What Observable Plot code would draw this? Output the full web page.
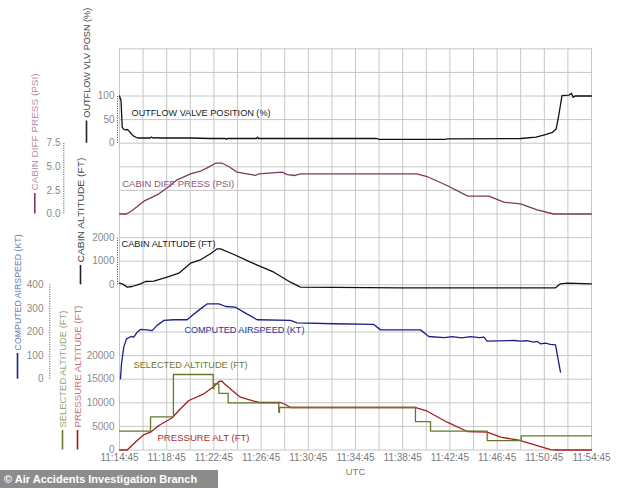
<!DOCTYPE html>
<html><head><meta charset="utf-8">
<script src="https://cdn.jsdelivr.net/npm/d3@7"></script>
<script src="https://cdn.jsdelivr.net/npm/@observablehq/plot@0.6"></script>
<style>
body{margin:0;background:#fff;}
#chart{position:relative;width:634px;height:488px;overflow:hidden;background:#fff;}
#chart svg{position:absolute;left:0;top:0;}
#credit{position:absolute;left:0;top:470px;width:218px;height:18px;background:#8c8c8c;color:#fff;
  font:bold 11px 'Liberation Sans',Arial,sans-serif;line-height:18px;padding-left:4px;box-sizing:border-box;white-space:nowrap;}
</style></head><body>
<div id="chart"><div id="credit">© Air Accidents Investigation Branch</div></div>
<script>
// ---------- data (times = minutes after 11:14:45 UTC) ----------
const xTickLabels = ["11:14:45","11:18:45","11:22:45","11:26:45","11:30:45","11:34:45","11:38:45","11:42:45","11:46:45","11:50:45","11:54:45"];

const outflowT = [0,0.13,0.23,0.34,0.5,0.68,0.79,1.0,1.2,1.44,1.64,2.6,2.7,2.85,3.2,3.3,3.5,6.0,7.7,9.0,9.05,9.15,11.6,11.7,11.8,15.3,21.8,22.0,27.6,27.8,34.0,35.3,36.1,36.7,37.0,37.2,37.5,38.1,38.3,38.45,38.6,40];
const outflowV = [100,90,34,30,28,29,26,20,15,12,11,11,13,11,12,11,11,11,10,10,8,10,10,13,10,10,10,8,8,9,10,13,18,23,30,55,101,102,106,97,100,100];

const diffT = [0,0.59,1.07,1.5,2.07,2.78,3.34,4.04,4.89,6.02,6.86,7.43,8.14,8.7,9.26,9.97,10.82,11.53,11.8,13.79,14.21,14.87,15.34,25.2,26.06,27.75,29.52,31.3,32.57,33.98,35.4,36.8,40];
const diffV = [0,0,0.37,0.8,1.36,1.78,2.14,2.78,3.62,4.26,4.53,4.89,5.38,5.38,5.03,4.43,4.26,4.08,4.26,4.43,4.18,4.08,4.26,4.26,3.97,3.02,1.89,1.89,1.25,1.08,0.44,0,0];

const cabinT = [0,0.23,0.65,1.07,1.78,2.2,2.91,4.04,5.03,6.02,6.86,7.71,8.28,8.56,9.69,11.1,13.08,14.49,15.34,23.8,36.95,37.37,37.94,40];
const cabinV = [68,42,-100,-72,42,140,153,322,492,915,1059,1314,1525,1525,1284,958,534,110,-100,-127,-127,42,68,42];

const speedT = [0.08,0.17,0.36,0.59,0.99,1.21,1.5,1.78,2.34,2.77,3.19,3.75,4.6,5.73,6.16,6.86,7.43,8.42,9.0,9.83,10.53,11.67,14.49,15.06,18.16,21.55,22.12,25.51,26.21,27.5,28.2,29.0,29.75,30.5,30.88,31.16,33.42,34.0,34.5,35.11,35.4,35.68,36.1,36.5,36.95,37.37];
const speedV = [2,65,136,171,181,178,199,211,209,206,228,249,252,252,270,298,319,319,308,305,284,252,249,239,235,232,209,209,181,176,180,175,180,176,178,161,164,161,163,157,160,150,153,148,145,30];

const altT = [0,0.65,1.5,2.07,2.63,3.33,4.47,5.17,5.88,7.15,8.0,8.42,8.7,8.84,9.55,10.25,11.38,11.95,13.64,14.07,14.49,25.11,26.08,27.77,29.47,31.16,32.29,33.98,35.4,36.53,37.0,40];
const altV = [0,0,2000,3280,3770,5190,6820,8730,10490,11900,13450,14510,14600,14150,12600,11190,10340,10060,10060,9640,9000,9000,8220,5890,3920,3770,2710,2010,950,100,0,0];

const selT = [0,2.63,4.57,7.94,7.99,8.42,9.21,13.5,13.56,25.08,26.36,31.16,34.04,40];
const selV = [4000,7000,16000,13000,14000,12000,10000,8000,9000,6000,4000,2000,3000,3000];

const outflowTicks = [0,50,100];
const diffTicks = [0,2.5,5,7.5];
const cabinTicks = [0,1000,2000];
const speedTicks = [0,100,200,300,400];
const altTicks = [0,5000,10000,15000,20000];

// ---------- layout helpers ----------
const FONT = "'Liberation Sans', Arial, sans-serif";
const parse = d3.utcParse("%H:%M:%S");
const T0 = parse(xTickLabels[0]);
const toDate = m => new Date(+T0 + m * 60000);
const pts = (T, V) => T.map((t, i) => ({t: toDate(t), v: V[i]}));
const GY = u => 449.5 - u * 23.6;   // grid row -> pixel
const root = document.getElementById("chart");

// rendered text widths (px) to mimic the narrow plotter font
const rotLen = {"OUTFLOW VLV POSN (%)": 110, "CABIN DIFF PRESS (PSI)": 117, "CABIN ALTITUDE (FT)": 105,
  "COMPUTED AIRSPEED (KT)": 116, "SELECTED ALTITUDE (FT)": 117, "PRESSURE ALTITUDE (FT)": 122};
const flatLen = {"OUTFLOW VALVE POSITION (%)": 139, "CABIN DIFF PRESS (PSI)": 112, "CABIN ALTITUDE (FT)": 94,
  "COMPUTED AIRSPEED (KT)": 120, "SELECTED ALTITUDE (FT)": 114, "PRESSURE ALT (FT)": 92};

function layer(yOpts, marks, xAxisOff = true) {
  const svg = Plot.plot({
    width: 634, height: 488,
    marginLeft: 119, marginRight: 43, marginTop: 48, marginBottom: 38.5,
    style: {background: "none", fontFamily: FONT},
    x: Object.assign({type: "utc", domain: [toDate(0), toDate(40)], range: [119, 591]}, xAxisOff ? {axis: null} : {}),
    y: Object.assign({}, yOpts, {axis: null}),
    marks
  });
  d3.select(svg).selectAll("text").each(function () {
    const rotated = (this.getAttribute("transform") || "").includes("rotate");
    const L = (rotated ? rotLen : flatLen)[this.textContent];
    if (L) { this.setAttribute("textLength", L); this.setAttribute("lengthAdjust", "spacingAndGlyphs"); }
  });
  root.insertBefore(svg, document.getElementById("credit"));
}

function titleMarks(title, start, dx, seg, segColor, textColor) {
  return [
    Plot.ruleX([0], {x: () => toDate(0), y1: () => 0, y2: () => seg, dx, stroke: segColor, strokeWidth: 1.6}),
    Plot.text([title], {frameAnchor: "left", y: () => start, text: d => d, rotate: -90, textAnchor: "start", dx, fill: textColor, fontSize: 9.5})
  ];
}
function axisMarks(ticks, fmt, tickDx, axisDx) {
  const m = [Plot.text(ticks, {y: d => d, text: fmt, frameAnchor: "left", textAnchor: "end", dx: tickDx, fill: "#8a8a8a", fontSize: 10})];
  if (axisDx != null) m.push(Plot.ruleX([0], {x: () => toDate(0), y1: () => ticks[0], y2: () => ticks[ticks.length - 1], dx: axisDx, stroke: "#444", strokeDasharray: "1,1.4", strokeWidth: 1}));
  return m;
}
function lbl(text, t, v, color) {
  return Plot.text([text], {x: () => toDate(t), y: () => v, text: d => d, textAnchor: "start", fill: color, fontSize: 9.5});
}
const str = d => String(d);

// ---------- base layer: grid, x axis ----------
layer({domain: [0, 17], range: [GY(0), GY(17)]}, [
  Plot.gridX({ticks: d3.range(0, 41, 2).map(toDate), stroke: "#c6c6c6", strokeOpacity: 1, strokeWidth: 1}),
  Plot.gridY({ticks: d3.range(0, 18), stroke: "#c6c6c6", strokeOpacity: 1, strokeWidth: 1}),
  Plot.axisX({ticks: xTickLabels.map(parse), tickFormat: d3.utcFormat("%H:%M:%S"), tickSize: 0, tickPadding: 4, fill: "#7a7a7a", fontSize: 10, label: null}),
  Plot.text(["UTC"], {frameAnchor: "bottom", dy: 24.5, text: d => d, fill: "#7a7a7a", fontSize: 9.5})
], false);

// ---------- outflow valve position ----------
layer({domain: [0, 100], range: [GY(13), GY(15)]}, [
  ...axisMarks(outflowTicks, str, -5, -2),
  ...titleMarks("OUTFLOW VLV POSN (%)", 54, -33, 47, "#222", "#444"),
  Plot.line(pts(outflowT, outflowV), {x: "t", y: "v", stroke: "#111", strokeWidth: 1.3}),
  lbl("OUTFLOW VALVE POSITION (%)", 1.02, 65, "#1a1a1a")
]);

// ---------- cabin diff press ----------
layer({domain: [0, 7.5], range: [GY(10), GY(13)]}, [
  ...axisMarks(diffTicks, d => d.toFixed(1), -59, -55.7),
  ...titleMarks("CABIN DIFF PRESS (PSI)", 2.49, -84.7, 2.17, "#7a3a60", "#b890a4"),
  Plot.line(pts(diffT, diffV), {x: "t", y: "v", stroke: "#7a3a60", strokeWidth: 1.3}),
  lbl("CABIN DIFF PRESS (PSI)", 0.23, 3.23, "#8a5a7a")
]);

// ---------- cabin altitude ----------
layer({domain: [0, 2000], range: [GY(7), GY(9)]}, [
  ...axisMarks(cabinTicks, str, -5, -2),
  ...titleMarks("CABIN ALTITUDE (FT)", 945, -39, 818, "#222", "#444"),
  Plot.line(pts(cabinT, cabinV), {x: "t", y: "v", stroke: "#111", strokeWidth: 1.3}),
  lbl("CABIN ALTITUDE (FT)", 0.17, 1737, "#1a1a1a")
]);

// ---------- computed airspeed ----------
layer({domain: [0, 400], range: [GY(3), GY(7)]}, [
  ...axisMarks(speedTicks, str, -76, -69.7),
  ...titleMarks("COMPUTED AIRSPEED (KT)", 122, -102, 109, "#1a1f8a", "#6a78b0"),
  Plot.line(pts(speedT, speedV), {x: "t", y: "v", stroke: "#1a1f8a", strokeWidth: 1.3}),
  lbl("COMPUTED AIRSPEED (KT)", 5.5, 210, "#2a3592")
]);

// ---------- pressure / selected altitude ----------
layer({domain: [0, 20000], range: [GY(0), GY(4)]}, [
  ...axisMarks(altTicks, str, -5, null),
  ...titleMarks("SELECTED ALTITUDE (FT)", 4767, -57, 4131, "#5f7a2a", "#9aa672"),
  ...titleMarks("PRESSURE ALTITUDE (FT)", 4767, -42, 4131, "#a01818", "#c07878"),
  Plot.line(pts(altT, altV), {x: "t", y: "v", stroke: "#a81c1c", strokeWidth: 1.3}),
  Plot.line(pts(selT, selV), {x: "t", y: "v", stroke: "#62792c", strokeWidth: 1.3, curve: "step-after"}),
  lbl("SELECTED ALTITUDE (FT)", 1.19, 18110, "#6a7a30"),
  lbl("PRESSURE ALT (FT)", 3.22, 2650, "#b03030")
]);
</script>
</body></html>
